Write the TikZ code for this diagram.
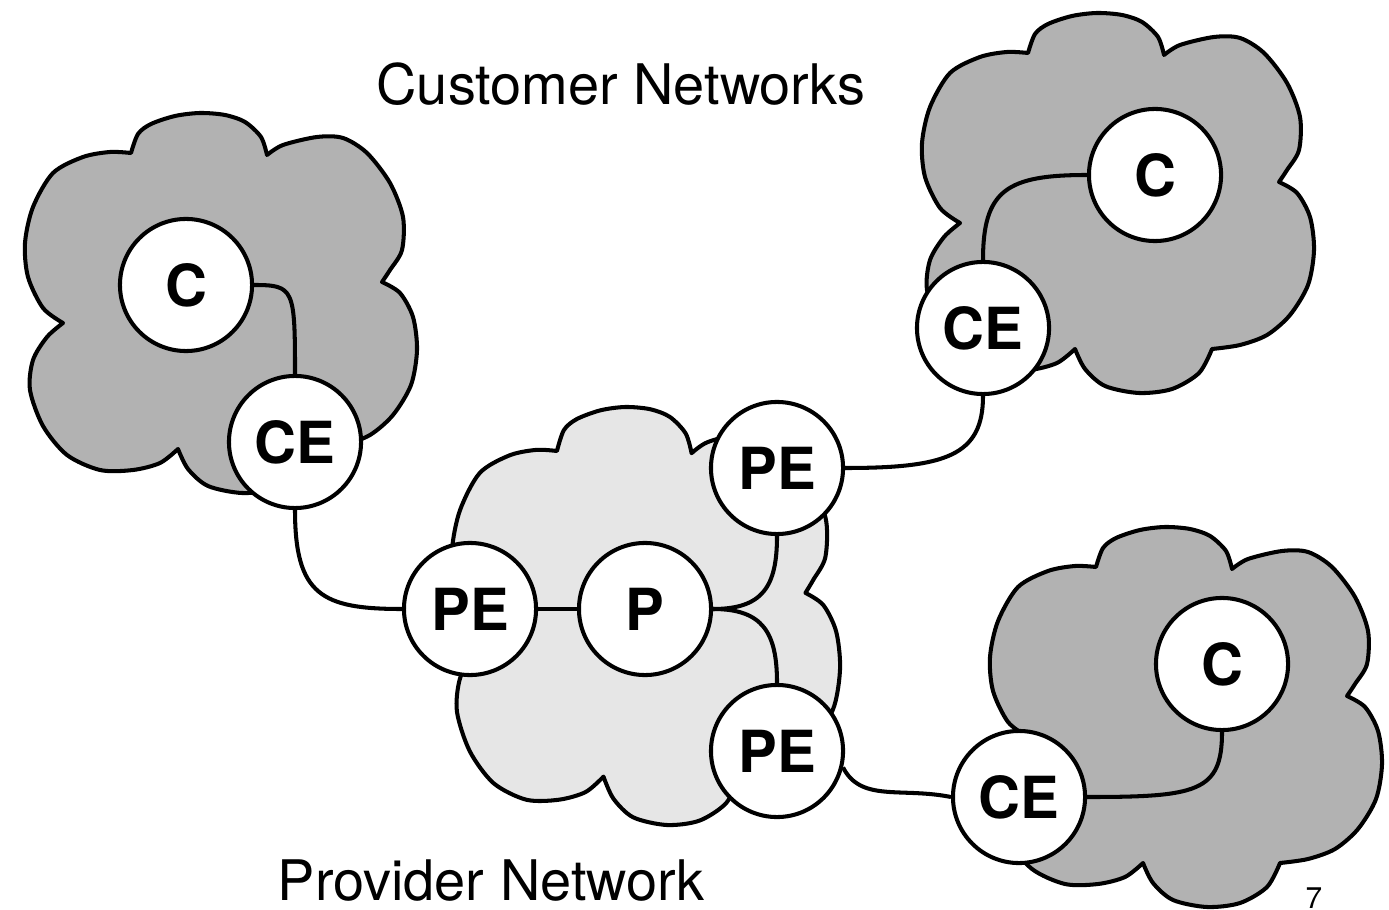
\documentclass[tikz,border=0pt]{standalone}
\usepackage{fontspec}
\setmainfont{TeX Gyre Heros}
\definecolor{custgray}{RGB}{178,178,178}
\definecolor{provgray}{RGB}{230,230,230}
\tikzset{
  netcloud/.pic={
    \path[pic actions] (106,40)
      -- plot[smooth] coordinates {(106,40) (113,21) (126,11) (150,3) (175,0) (200,2) (220,9) (236,24) (242,42)}
      -- plot[smooth] coordinates {(242,42) (258,32) (292,24) (318,25) (342,40) (365,70) (378,104) (377,137) (365,157) (357,169)}
      -- plot[smooth] coordinates {(357,169) (375,180) (388,204) (392,237) (386,272) (368,302) (345,322) (318,332) (290,336)}
      -- plot[smooth] coordinates {(290,336) (277,360) (250,376) (217,380) (183,373) (163,356) (153,336)}
      -- plot[smooth] coordinates {(153,336) (135,350) (108,357) (75,357) (42,342) (18,313) (5,277) (8,247) (22,224) (38,210)}
      -- plot[smooth] coordinates {(38,210) (18,195) (3,164) (0,130) (8,94) (28,60) (58,44) (85,39) (106,40)}
      -- cycle;
  }
}
\begin{document}
\begin{tikzpicture}[x=0.01cm,y=-0.01cm,
  router/.style={circle, draw, fill=white, line width=1.15pt, minimum size=1.32cm, inner sep=0pt,
                 font=\fontsize{16.5}{18}\selectfont\bfseries},
  link/.style={line width=1.15pt},
  cloudstyle/.style={draw, line width=1.15pt, line join=round},
  title/.style={font=\fontsize{15.9}{18}\selectfont, anchor=base, inner sep=0pt}
]
\useasboundingbox (0,0) rectangle (1389,910);

% clouds
\pic[cloudstyle, fill=custgray] at (25,113) {netcloud};
\pic[cloudstyle, fill=custgray] at (922,13) {netcloud};
\pic[cloudstyle, fill=custgray] at (990,527) {netcloud};
\pic[cloudstyle, fill=provgray, xscale=0.99, yscale=1.1] at (452,407) {netcloud};

% routers
\node[router] (C1) at (186,285) {C};
\node[router] (CE1) at (295,442) {CE};
\node[router] (PE1) at (470,609) {PE};
\node[router] (P) at (645,609) {P};
\node[router] (PE2) at (777,468) {PE};
\node[router] (PE3) at (777,751) {PE};
\node[router] (C2) at (1155,175) {C};
\node[router] (CE2) at (983,328) {CE};
\node[router] (C3) at (1222,664) {C};
\node[router] (CE3) at (1019,797) {CE};

% links
\draw[link] (C1.east) .. controls +(40,0) and +(0,-85) .. (CE1.north);
\draw[link] (CE1.south) .. controls +(0,85) and +(-80,0) .. (PE1.west);
\draw[link] (PE1) -- (P);
\draw[link] (P.east) .. controls +(50,0) and +(0,50) .. (PE2.south);
\draw[link] (P.east) .. controls +(50,0) and +(0,-50) .. (PE3.north);
\draw[link] (PE2.east) .. controls +(100,0) and +(0,60) .. (CE2.south);
\draw[link] (C2.west) .. controls +(-80,0) and +(0,-70) .. (CE2.north);
\draw[link] (PE3.-14) .. controls +(18,35) and +(-50,-10) .. (CE3.west);
\draw[link] (C3.south) .. controls +(0,60) and +(110,0) .. (CE3.east);

% labels
\node[title] (tcust) at (621,105) {Customer Networks};
\node[title] (tprov) at (491,900) {Provider Network};
\node[font=\fontsize{8.5}{10}\selectfont, anchor=base, inner sep=0pt] (pgnum) at (1314,908) {7};
\end{tikzpicture}
\end{document}
